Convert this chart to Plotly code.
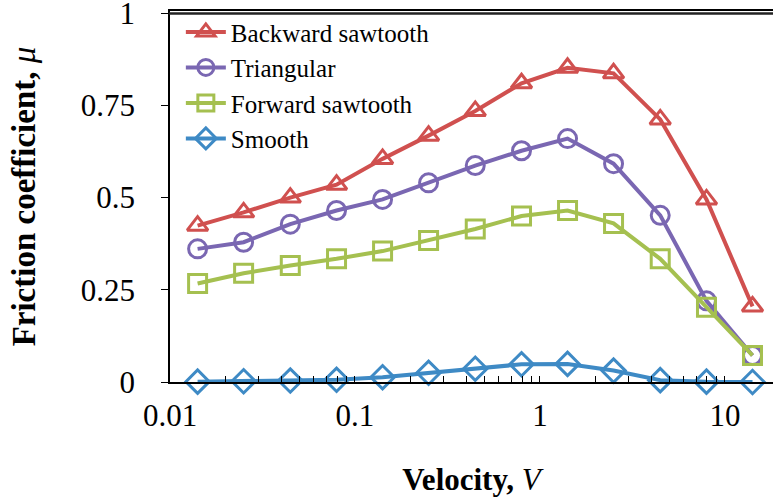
import plotly.graph_objects as go

velocity = [0.0141, 0.025, 0.0447, 0.0795, 0.141, 0.25, 0.447, 0.795, 1.41, 2.5, 4.47, 7.95, 14.1]
backward = [0.424, 0.46, 0.50, 0.535, 0.605, 0.668, 0.735, 0.81, 0.852, 0.837, 0.712, 0.495, 0.205]
triangular = [0.361, 0.379, 0.428, 0.465, 0.495, 0.54, 0.587, 0.627, 0.66, 0.592, 0.452, 0.22, 0.072]
forward = [0.267, 0.295, 0.316, 0.334, 0.355, 0.384, 0.415, 0.45, 0.465, 0.43, 0.334, 0.203, 0.072]
smooth = [0.001, 0.002, 0.004, 0.006, 0.013, 0.025, 0.036, 0.048, 0.049, 0.031, 0.005, 0.001, 0.0]

series_names = ["Backward sawtooth", "Triangular", "Forward sawtooth", "Smooth"]
series_values = [backward, triangular, forward, smooth]
colors = ["#D0504F", "#7A67B2", "#A5C050", "#3E8AC5"]
symbols = ["triangle-up-open", "circle-open", "square-open", "diamond-open"]

y_ticks = [0, 0.25, 0.5, 0.75, 1]
y_ticktext = ["0", "0.25", "0.5", "0.75", "1"]
x_major = {0.01: "0.01", 0.1: "0.1", 1: "1", 10: "10"}

x_tickvals = []
x_ticktext = []
for dec in [0.01, 0.1, 1, 10]:
    for m in range(1, 10):
        v = dec * m
        if v > 18:
            break
        x_tickvals.append(v)
        x_ticktext.append(x_major[dec] if m == 1 else "")

font_family = "Liberation Serif"

fig = go.Figure()
for name, vals, c, s in zip(series_names, series_values, colors, symbols):
    fig.add_trace(go.Scatter(
        x=velocity, y=vals, name=name, mode="lines+markers",
        line=dict(color=c, width=4),
        marker=dict(symbol=s, size=18, color=c, line=dict(color=c, width=3)),
        cliponaxis=False,
    ))

fig.update_layout(
    template="none",
    width=773, height=503,
    margin=dict(l=170, r=0, t=11, b=121, autoexpand=False),
    paper_bgcolor="white", plot_bgcolor="white",
    font=dict(family=font_family, color="black"),
    showlegend=True,
    legend=dict(
        x=0.018, y=1.005, xanchor="left", yanchor="top",
        font=dict(size=25, family=font_family, color="black"),
        bgcolor="rgba(0,0,0,0)", borderwidth=0, tracegroupgap=0, itemwidth=40,
    ),
    shapes=[dict(type="line", xref="paper", yref="paper", x0=-0.002, x1=1, y0=0.993, y1=0.993,
                 line=dict(color="#222222", width=2.5), layer="above")],
    xaxis=dict(
        type="log", range=[-2, 1.26], automargin=False,
        tickvals=x_tickvals, ticktext=x_ticktext,
        ticks="inside", ticklen=6, tickwidth=1, tickcolor="black",
        showline=True, linecolor="black", linewidth=1.5, mirror=True,
        showgrid=False, zeroline=False,
        tickfont=dict(size=31, family=font_family),
        ticklabelstandoff=5, ticklabeloverflow="allow",
        title=dict(text="<b>Velocity, </b><i>V</i>", font=dict(size=31, family=font_family), standoff=36),
    ),
    yaxis=dict(
        range=[0, 1.006], automargin=False,
        tickvals=y_ticks, ticktext=y_ticktext,
        ticks="outside", ticklen=7, tickwidth=1, tickcolor="black",
        showline=True, linecolor="black", linewidth=1.5, mirror=False,
        showgrid=False, zeroline=False,
        tickfont=dict(size=31, family=font_family),
        ticklabelstandoff=20, ticklabeloverflow="allow",
        title=dict(text="<b>Friction coefficient, </b><i>μ</i>", font=dict(size=33, family=font_family), standoff=35),
    ),
)

fig.write_html("out.html")
